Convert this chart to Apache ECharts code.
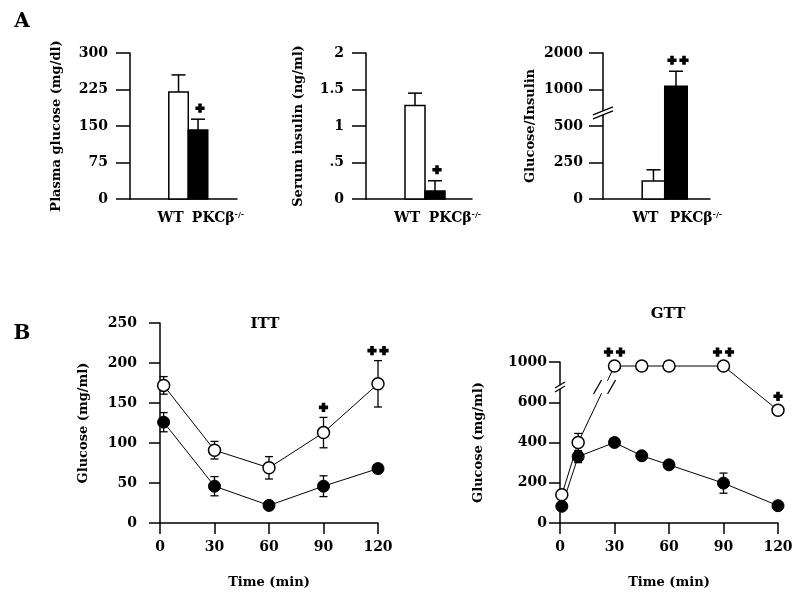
<!DOCTYPE html>
<html><head><meta charset="utf-8">
<script src="https://cdn.jsdelivr.net/npm/echarts@6/dist/echarts.min.js"></script>
<style>html,body{margin:0;padding:0;background:#fff}#c{width:800px;height:602px}</style>
</head><body><div id="c"></div>
<script>
// ---------- data ----------
const groups = ['WT', 'PKCβ-/-'];
const glucoseMean = [220, 142];
const glucoseErr = [35, 22];
const glucoseSig = ['', '*'];
const insulinMean = [1.28, 0.11];
const insulinErr = [0.17, 0.14];
const insulinSig = ['', '*'];
const ratioMean = [123, 1090];
const ratioErr = [77, 410];
const ratioSig = ['', '**'];
const ratioTicks = [0, 250, 500, 1000, 2000];

const timeTicks = [0, 30, 60, 90, 120];
const ittTime = [2, 30, 60, 90, 120];
const ittWT = [172, 91, 69, 113, 174];
const ittWTErr = [11, 11, 14, 19, 29];
const ittKO = [126, 46, 22, 46, 68];
const ittKOErr = [12, 12, 0, 13, 0];
const ittSig = ['', '', '', '*', '**'];

const gttTime = [1, 10, 30, 45, 60, 90, 120];
const gttWT = [140, 400, 960, 960, 960, 960, 560];
const gttWTErr = [0, 45, 0, 0, 0, 0, 0];
const gttKO = [83, 330, 400, 334, 289, 198, 86];
const gttKOErr = [0, 30, 0, 0, 0, 50, 0];
const gttSig = ['', '', '**', '', '', '**', '*'];
const gttTicks = [0, 200, 400, 600, 1000];

// ---------- helpers ----------
const FONT = 'DejaVu Serif';
function pw(ticks, v) {
  for (let i = 0; i < ticks.length - 1; i++) {
    if (v <= ticks[i + 1]) return i + (v - ticks[i]) / (ticks[i + 1] - ticks[i]);
  }
  const n = ticks.length - 1;
  return n - 1 + (v - ticks[n - 1]) / (ticks[n] - ticks[n - 1]);
}
const lin = v => v;
const ratioScale = v => pw(ratioTicks, v);
const gttScale = v => pw(gttTicks, v);

function crossPts(cx, cy) {
  const s = 4.6, t = 1.8;
  return [[cx-t,cy-s],[cx+t,cy-s],[cx+t,cy-t],[cx+s,cy-t],[cx+s,cy+t],[cx+t,cy+t],
          [cx+t,cy+s],[cx-t,cy+s],[cx-t,cy+t],[cx-s,cy+t],[cx-s,cy-t],[cx-t,cy-t]];
}
function sigShapes(sig, cx, cy) {
  const n = sig.length, out = [];
  for (let k = 0; k < n; k++) {
    const x = cx + (k - (n - 1) / 2) * 12;
    out.push({type: 'polygon', shape: {points: crossPts(x, cy)}, style: {fill: '#000'}});
  }
  return out;
}

function barRender(means, errs, sigs, sc) {
  return function (params, api) {
    const i = params.dataIndex;
    const w = api.size([1, 0])[0];
    const top = api.coord([i, sc(means[i])]);
    const base = api.coord([i, 0]);
    const et = api.coord([i, sc(means[i] + errs[i])]);
    const ch = [
      {type: 'rect', shape: {x: top[0] - w / 2, y: top[1], width: w, height: base[1] - top[1]},
       style: {fill: i === 0 ? '#fff' : '#000', stroke: '#000', lineWidth: 1.5}},
      {type: 'line', shape: {x1: top[0], y1: top[1], x2: top[0], y2: et[1]}, style: {stroke: '#000', lineWidth: 1.5}},
      {type: 'line', shape: {x1: top[0] - 7, y1: et[1], x2: top[0] + 7, y2: et[1]}, style: {stroke: '#000', lineWidth: 1.5}}
    ];
    if (sigs[i]) sigShapes(sigs[i], top[0] + 2, et[1] - 11).forEach(s => ch.push(s));
    return {type: 'group', children: ch};
  };
}

function errRender(times, vals, errs, sc) {
  return function (params, api) {
    const i = params.dataIndex;
    if (!errs[i]) return null;
    const hi = api.coord([times[i], sc(vals[i] + errs[i])]);
    const lo = api.coord([times[i], sc(Math.max(0, vals[i] - errs[i]))]);
    return {type: 'group', children: [
      {type: 'line', shape: {x1: hi[0], y1: hi[1], x2: lo[0], y2: lo[1]}, style: {stroke: '#000', lineWidth: 1.3}},
      {type: 'line', shape: {x1: hi[0] - 4, y1: hi[1], x2: hi[0] + 4, y2: hi[1]}, style: {stroke: '#000', lineWidth: 1.3}},
      {type: 'line', shape: {x1: lo[0] - 4, y1: lo[1], x2: lo[0] + 4, y2: lo[1]}, style: {stroke: '#000', lineWidth: 1.3}}
    ]};
  };
}
function sigRender(times, vals, errs, sigs, sc) {
  return function (params, api) {
    const i = params.dataIndex;
    if (!sigs[i]) return null;
    const p = api.coord([times[i], sc(vals[i] + errs[i])]);
    return {type: 'group', children: sigShapes(sigs[i], p[0], p[1] - (errs[i] ? 10 : 14))};
  };
}
function axisBreak(level, half, slope) {
  return function (params, api) {
    const p = api.coord([api.value(0), level]);
    const x = p[0], y = p[1];
    return {type: 'group', children: [
      {type: 'rect', shape: {x: x - 3, y: y - 2, width: 6, height: 4}, style: {fill: '#fff'}},
      {type: 'line', shape: {x1: x - half, y1: y - 2 + slope, x2: x + half, y2: y - 2 - slope}, style: {stroke: '#000', lineWidth: 1.3}},
      {type: 'line', shape: {x1: x - half, y1: y + 2 + slope, x2: x + half, y2: y + 2 - slope}, style: {stroke: '#000', lineWidth: 1.3}}
    ]};
  };
}
function lineBreak(i0, level) {
  return function (params, api) {
    const a = api.coord([gttTime[i0], gttScale(gttWT[i0])]);
    const b = api.coord([gttTime[i0 + 1], gttScale(gttWT[i0 + 1])]);
    const c = api.coord([gttTime[i0], level]);
    const f = (c[1] - a[1]) / (b[1] - a[1]);
    const x = a[0] + f * (b[0] - a[0]), y = c[1];
    const dx = (b[0] - a[0]), dy = (b[1] - a[1]);
    const len = Math.sqrt(dx * dx + dy * dy), ux = dx / len, uy = dy / len;
    const g = 7;
    return {type: 'group', children: [
      {type: 'polygon', shape: {points: [[x - ux * g - 3, y - uy * g], [x + ux * g - 3, y + uy * g], [x + ux * g + 3, y + uy * g], [x - ux * g + 3, y - uy * g]]}, style: {fill: '#fff'}},
      {type: 'line', shape: {x1: x - 11, y1: y + 7, x2: x - 3, y2: y - 7}, style: {stroke: '#000', lineWidth: 1.3}},
      {type: 'line', shape: {x1: x + 3, y1: y + 7, x2: x + 11, y2: y - 7}, style: {stroke: '#000', lineWidth: 1.3}}
    ]};
  };
}

// ---------- option ----------
const axLine = {show: true, onZero: false, lineStyle: {color: '#000', width: 1.5}};
const tickStyle = {color: '#000', width: 1.5};
const lblStyle = {color: '#000', fontFamily: FONT, fontWeight: 'bold', fontSize: 14};
const nameStyle = {color: '#000', fontFamily: FONT, fontWeight: 'bold', fontSize: 13};

const grids = [
  {left: 130, top: 53, width: 107, height: 146},
  {left: 366, top: 53, width: 106, height: 146},
  {left: 603, top: 53, width: 107, height: 146},
  {left: 160, top: 323, width: 218, height: 200},
  {left: 560, top: 362, width: 218, height: 161}
];

function barX(gi, min, max) {
  return {
    gridIndex: gi, type: 'value', min: min, max: max,
    axisLine: axLine, axisTick: {show: false}, splitLine: {show: false},
    axisLabel: {
      customValues: [0, 1], margin: 12, color: '#000',
      formatter: v => (Math.round(v) === 0 ? '{w|' + groups[0] + '}' : '{p|PKCβ}{s|-/-}'),
      rich: {
        w: Object.assign({}, lblStyle, {padding: [0, 16, 0, 0]}),
        p: Object.assign({}, lblStyle, {padding: [0, 0, 0, 40]}),
        s: {color: '#000', fontFamily: FONT, fontWeight: 'bold', fontSize: 8, verticalAlign: 'top', padding: [0, 0, 6, 0]}
      }
    }
  };
}
function yAx(gi, o) {
  return Object.assign({
    gridIndex: gi, type: 'value', axisLine: axLine, splitLine: {show: false},
    axisTick: {show: true, length: 14, lineStyle: tickStyle},
    nameLocation: 'middle', nameRotate: 90, nameTextStyle: nameStyle
  }, o);
}

const option = {
  animation: false,
  backgroundColor: '#fff',
  grid: grids,
  xAxis: [
    barX(0, -2.49, 3.0),
    barX(1, -2.45, 2.85),
    barX(2, -2.24, 2.51),
    {gridIndex: 3, type: 'value', min: 0, max: 120, interval: 30, axisLine: axLine, splitLine: {show: false},
     axisTick: {show: true, length: 11, lineStyle: tickStyle},
     axisLabel: Object.assign({margin: 17}, lblStyle),
     name: 'Time (min)', nameLocation: 'middle', nameGap: 53, nameTextStyle: nameStyle},
    {gridIndex: 4, type: 'value', min: 0, max: 120, interval: 30, axisLine: axLine, splitLine: {show: false},
     axisTick: {show: true, length: 11, lineStyle: tickStyle},
     axisLabel: Object.assign({margin: 17}, lblStyle),
     name: 'Time (min)', nameLocation: 'middle', nameGap: 53, nameTextStyle: nameStyle}
  ],
  yAxis: [
    yAx(0, {min: 0, max: 300, interval: 75, name: 'Plasma glucose (mg/dl)', nameGap: 67,
            axisLabel: Object.assign({margin: 22}, lblStyle)}),
    yAx(1, {min: 0, max: 2, interval: 0.5, name: 'Serum insulin (ng/ml)', nameGap: 61,
            axisLabel: Object.assign({margin: 22, formatter: v => (v === 0 ? '0' : String(v).replace(/^0\./, '.'))}, lblStyle)}),
    yAx(2, {min: 0, max: 4, interval: 1, name: 'Glucose/Insulin', nameGap: 66,
            axisLabel: Object.assign({margin: 20, formatter: v => String(ratioTicks[Math.round(v)])}, lblStyle)}),
    yAx(3, {min: 0, max: 250, interval: 50, name: 'Glucose (mg/ml)', nameGap: 70,
            axisTick: {show: true, length: 11, lineStyle: tickStyle},
            axisLabel: Object.assign({margin: 23}, lblStyle)}),
    yAx(4, {min: 0, max: 4, interval: 1, name: 'Glucose (mg/ml)', nameGap: 75,
            axisTick: {show: true, length: 11, lineStyle: tickStyle},
            axisLabel: Object.assign({margin: 13, formatter: v => String(gttTicks[Math.round(v)])}, lblStyle)})
  ],
  graphic: [
    {type: 'text', x: 22, y: 22, style: {text: 'A', font: 'bold 20px "DejaVu Serif"', fill: '#000', align: 'center', verticalAlign: 'middle'}},
    {type: 'text', x: 22, y: 334, style: {text: 'B', font: 'bold 20px "DejaVu Serif"', fill: '#000', align: 'center', verticalAlign: 'middle'}},
    {type: 'text', x: 265, y: 324, style: {text: 'ITT', font: 'bold 15px "DejaVu Serif"', fill: '#000', align: 'center', verticalAlign: 'middle'}},
    {type: 'text', x: 668, y: 314, style: {text: 'GTT', font: 'bold 15px "DejaVu Serif"', fill: '#000', align: 'center', verticalAlign: 'middle'}}
  ],
  series: [
    {type: 'custom', xAxisIndex: 0, yAxisIndex: 0, clip: false, data: groups.map((g, i) => [i, glucoseMean[i]]),
     renderItem: barRender(glucoseMean, glucoseErr, glucoseSig, lin)},
    {type: 'custom', xAxisIndex: 1, yAxisIndex: 1, clip: false, data: groups.map((g, i) => [i, insulinMean[i]]),
     renderItem: barRender(insulinMean, insulinErr, insulinSig, lin)},
    {type: 'custom', xAxisIndex: 2, yAxisIndex: 2, clip: false, data: groups.map((g, i) => [i, ratioScale(ratioMean[i])]),
     renderItem: barRender(ratioMean, ratioErr, ratioSig, ratioScale)},
    {type: 'custom', xAxisIndex: 2, yAxisIndex: 2, clip: false, z: 5, data: [[-2.24, 2.36]],
     renderItem: axisBreak(2.36, 10, 4)},

    // ITT
    {type: 'custom', xAxisIndex: 3, yAxisIndex: 3, clip: false, z: 1, data: ittTime.map((t, i) => [t, ittWT[i]]),
     renderItem: errRender(ittTime, ittWT, ittWTErr, lin)},
    {type: 'custom', xAxisIndex: 3, yAxisIndex: 3, clip: false, z: 1, data: ittTime.map((t, i) => [t, ittKO[i]]),
     renderItem: errRender(ittTime, ittKO, ittKOErr, lin)},
    {type: 'line', xAxisIndex: 3, yAxisIndex: 3, z: 3, data: ittTime.map((t, i) => [t, ittWT[i]]),
     symbol: 'circle', symbolSize: 12, lineStyle: {color: '#000', width: 1},
     itemStyle: {color: '#fff', borderColor: '#000', borderWidth: 1.5}},
    {type: 'line', xAxisIndex: 3, yAxisIndex: 3, z: 3, data: ittTime.map((t, i) => [t, ittKO[i]]),
     symbol: 'circle', symbolSize: 12, lineStyle: {color: '#000', width: 1},
     itemStyle: {color: '#000', borderColor: '#000', borderWidth: 1}},
    {type: 'custom', xAxisIndex: 3, yAxisIndex: 3, clip: false, z: 4, data: ittTime.map((t, i) => [t, ittWT[i]]),
     renderItem: sigRender(ittTime, ittWT, ittWTErr, ittSig, lin)},

    // GTT
    {type: 'custom', xAxisIndex: 4, yAxisIndex: 4, clip: false, z: 1, data: gttTime.map((t, i) => [t, gttScale(gttWT[i])]),
     renderItem: errRender(gttTime, gttWT, gttWTErr, gttScale)},
    {type: 'custom', xAxisIndex: 4, yAxisIndex: 4, clip: false, z: 1, data: gttTime.map((t, i) => [t, gttScale(gttKO[i])]),
     renderItem: errRender(gttTime, gttKO, gttKOErr, gttScale)},
    {type: 'line', xAxisIndex: 4, yAxisIndex: 4, z: 3, data: gttTime.map((t, i) => [t, gttScale(gttWT[i])]),
     symbol: 'circle', symbolSize: 12, lineStyle: {color: '#000', width: 1},
     itemStyle: {color: '#fff', borderColor: '#000', borderWidth: 1.5}},
    {type: 'line', xAxisIndex: 4, yAxisIndex: 4, z: 3, data: gttTime.map((t, i) => [t, gttScale(gttKO[i])]),
     symbol: 'circle', symbolSize: 12, lineStyle: {color: '#000', width: 1},
     itemStyle: {color: '#000', borderColor: '#000', borderWidth: 1}},
    {type: 'custom', xAxisIndex: 4, yAxisIndex: 4, clip: false, z: 4, data: gttTime.map((t, i) => [t, gttScale(gttWT[i])]),
     renderItem: sigRender(gttTime, gttWT, gttWTErr, gttSig, gttScale)},
    {type: 'custom', xAxisIndex: 4, yAxisIndex: 4, clip: false, z: 5, data: [[0, 3.38]],
     renderItem: axisBreak(3.38, 5, 3)},
    {type: 'custom', xAxisIndex: 4, yAxisIndex: 4, clip: false, z: 5, data: [[0, 3.38]],
     renderItem: lineBreak(1, 3.38)}
  ]
};

const chart = echarts.init(document.getElementById('c'), null, {renderer: 'canvas'});
chart.setOption(option);
</script>
</body></html>
